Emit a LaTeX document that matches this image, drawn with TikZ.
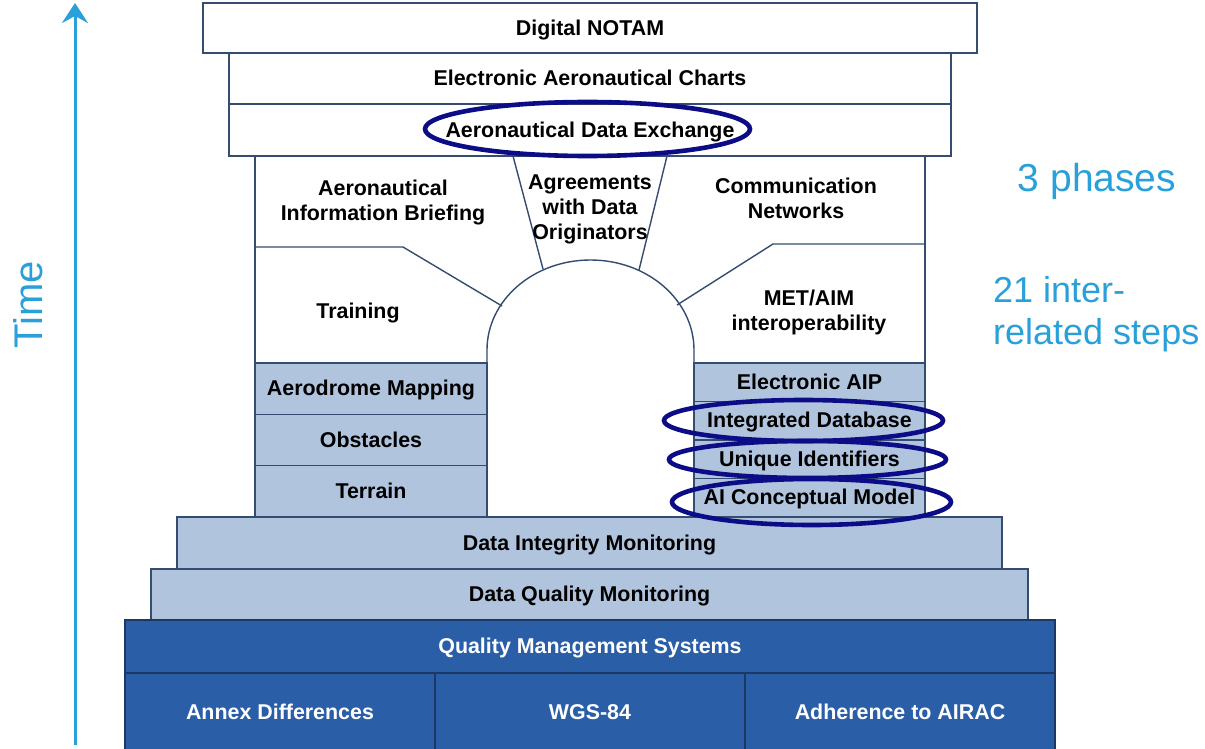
\documentclass[tikz,border=0pt]{standalone}
\usepackage{fontspec}
\setmainfont{Liberation Sans}
\usetikzlibrary{arrows.meta}
\definecolor{edge}{RGB}{52,76,112}
\definecolor{pale}{RGB}{176,196,222}
\definecolor{deep}{RGB}{42,94,166}
\definecolor{deepedge}{RGB}{28,56,100}
\definecolor{ringblue}{RGB}{12,12,135}
\definecolor{sky}{RGB}{41,160,218}
\tikzset{
  layer/.style={draw=edge, line width=1.4pt, inner sep=0pt, align=center,
    text height=17pt, text depth=2.7pt,
    font=\bfseries\fontsize{21.4}{25}\selectfont},
  plainbox/.style={layer, fill=white},
  palebox/.style={layer, fill=pale},
  deepbox/.style={layer, fill=deep, draw=deepedge, text=white},
  label/.style={inner sep=0pt, align=center, font=\bfseries\fontsize{21.4}{25}\selectfont},
  divider/.style={draw=edge, line width=1.4pt},
  ring/.style={draw=ringblue, line width=4.6pt},
  note/.style={text=sky, inner sep=0pt},
  timearrow/.style={draw=sky, line width=3pt,
    -{Stealth[length=20pt,width=26pt,inset=7pt]}}
}
\begin{document}
\begin{tikzpicture}[x=1pt,y=-1pt]
\useasboundingbox (0,0) rectangle (1205,749);

% top layers
\node[plainbox, minimum width=774, minimum height=50] (notam) at (590,28) {Digital NOTAM};
\node[plainbox, minimum width=722, minimum height=51] (charts) at (590,78.5) {Electronic Aeronautical Charts};
\node[plainbox, minimum width=722, minimum height=52] (ade) at (590,130) {Aeronautical Data Exchange};

% middle section with the arch
\draw[divider, fill=white] (255,156) rectangle (925,517);
\draw[divider] (255,247) -- (403,247) -- (502,306);
\draw[divider] (513,156) -- (543,269);
\draw[divider] (667,156) -- (639,270);
\draw[divider] (925,244) -- (773,244) -- (677,305);

\node[label] (briefing) at (383,202.5) {Aeronautical\\Information Briefing};
\node[label] (agree) at (590,209) {Agreements\\with Data\\Originators};
\node[label] (comm) at (796,198.5) {Communication\\Networks};
\node[label] (training) at (358,313) {Training};
\node[label] (metaim) at (809,312) {MET/AIM\\interoperability};

% left pillar
\node[palebox, minimum width=232, minimum height=51.33] (aeromap) at (371,388.67) {Aerodrome Mapping};
\node[palebox, minimum width=232, minimum height=51.33] (obst) at (371,440) {Obstacles};
\node[palebox, minimum width=232, minimum height=51.33] (terrain) at (371,491.33) {Terrain};

% right pillar
\node[palebox, minimum width=231, minimum height=38.5] (eaip) at (809.5,382.25) {Electronic AIP};
\node[palebox, minimum width=231, minimum height=38.5] (idb) at (809.5,420.75) {Integrated Database};
\node[palebox, minimum width=231, minimum height=38.5] (uid) at (809.5,459.25) {Unique Identifiers};
\node[palebox, minimum width=231, minimum height=38.5] (aicm) at (809.5,497.75) {AI Conceptual Model};

% arch opening
\draw[divider] (487,517) -- (487,350)
  arc[start angle=180, end angle=360, x radius=103.5, y radius=90] -- (694,517);

% foundation layers
\node[palebox, minimum width=825, minimum height=52] (dim) at (589.5,543) {Data Integrity Monitoring};
\node[palebox, minimum width=877, minimum height=51] (dqm) at (589.5,594.5) {Data Quality Monitoring};
\node[deepbox, minimum width=930, minimum height=53] (qms) at (590,646.5) {Quality Management Systems};
\node[deepbox, minimum width=310, minimum height=79] (annex) at (280,712.5) {Annex Differences};
\node[deepbox, minimum width=310, minimum height=79] (wgs) at (590,712.5) {WGS-84};
\node[deepbox, minimum width=310, minimum height=79] (airac) at (900,712.5) {Adherence to AIRAC};

% highlighted steps
\draw[ring] (587.5,129) ellipse[x radius=162.5, y radius=27];
\draw[ring] (803.5,420.5) ellipse[x radius=139.5, y radius=20.5];
\draw[ring] (807.5,459.5) ellipse[x radius=138.5, y radius=18.5];
\draw[ring] (811.5,502) ellipse[x radius=139.5, y radius=23];

% time axis and side notes
\coordinate (tbase) at (75,745);
\coordinate (ttip) at (75,3);
\draw[timearrow] (tbase) -- (ttip);
\node[note, rotate=90, font=\fontsize{40}{44}\selectfont] (time) at (28,305) {Time};
\node[note, font=\fontsize{39}{44}\selectfont] (phases) at (1097,181) {3 phases};
\node[note, anchor=west, align=left, font=\fontsize{36}{42}\selectfont] (steps) at (993,314) {21 inter-\\related steps};
\end{tikzpicture}
\end{document}
